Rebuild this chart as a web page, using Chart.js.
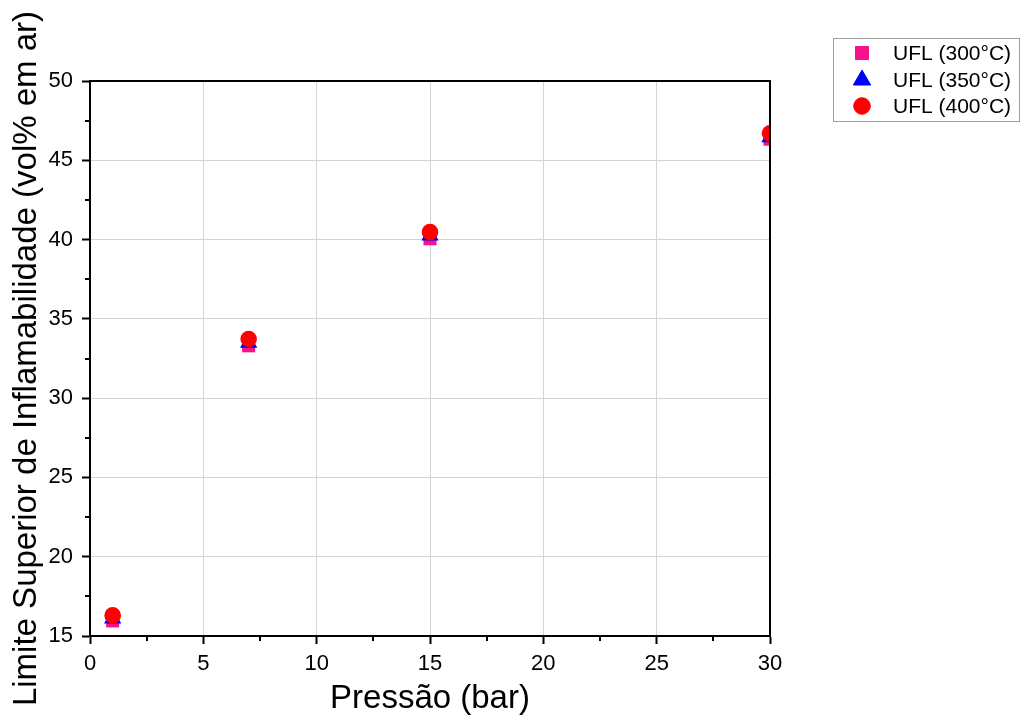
<!DOCTYPE html>
<html>
<head>
<meta charset="utf-8">
<script src="https://cdn.jsdelivr.net/npm/chart.js@4.4.0/dist/chart.umd.min.js"></script>
<style>
  body { margin: 0; background: #fff; }
  #wrap { width: 1023px; height: 720px; }
</style>
</head>
<body>
<div id="wrap"><canvas id="chart" width="1023" height="720"></canvas></div>
<script>
const pressures = [1, 7, 15, 30]
const ufl300 = [15.95, 33.3, 40.05, 46.33]
const ufl350 = [16.1, 33.5, 40.25, 46.45]
const ufl400 = [16.3, 33.73, 40.47, 46.7]
const seriesLabels = ['UFL (300°C)', 'UFL (350°C)', 'UFL (400°C)']
const xMinorTicks = [2.5, 7.5, 12.5, 17.5, 22.5, 27.5]
const yMinorTicks = [17.5, 22.5, 27.5, 32.5, 37.5, 42.5, 47.5]

const FONT = '"Liberation Sans", Arial, sans-serif'

const toPoints = ys => pressures.map((p, i) => ({ x: p, y: ys[i] }))

// minor ticks, black frame and the boxed legend on the right
const extras = {
  id: 'extras',
  afterDraw(chart) {
    const { ctx, chartArea: a, scales } = chart
    ctx.save()
    ctx.strokeStyle = '#000'
    ctx.lineWidth = 2
    ctx.strokeRect(a.left, a.top, a.right - a.left, a.bottom - a.top)
    ctx.beginPath()
    xMinorTicks.forEach(v => {
      const px = Math.round(scales.x.getPixelForValue(v))
      ctx.moveTo(px, a.bottom)
      ctx.lineTo(px, a.bottom + 5)
    })
    yMinorTicks.forEach(v => {
      const py = Math.round(scales.y.getPixelForValue(v))
      ctx.moveTo(a.left - 5, py)
      ctx.lineTo(a.left, py)
    })
    ctx.stroke()

    // legend
    ctx.strokeStyle = '#a0a0a0'
    ctx.lineWidth = 1
    ctx.strokeRect(833.5, 38.5, 186, 83)
    ctx.font = '21px ' + FONT
    ctx.textBaseline = 'middle'
    ctx.textAlign = 'left'
    const rows = [53, 80, 106]
    chart.data.datasets.forEach((ds, i) => {
      ctx.fillStyle = ds.backgroundColor
      ctx.strokeStyle = ds.backgroundColor
      Chart.helpers.drawPoint(ctx, {
        pointStyle: ds.pointStyle,
        radius: ds.pointRadius,
        borderWidth: 0.01
      }, 862, rows[i])
      ctx.fillStyle = '#000'
      ctx.fillText(ds.label, 893, rows[i] + 1)
    })
    ctx.restore()
  }
}

new Chart(document.getElementById('chart'), {
  type: 'scatter',
  data: {
    datasets: [
      {
        label: seriesLabels[0],
        data: toPoints(ufl300),
        pointStyle: 'rect',
        pointRadius: 9.2,
        backgroundColor: '#f5128a',
        borderWidth: 0,
        order: 2
      },
      {
        label: seriesLabels[1],
        data: toPoints(ufl350),
        pointStyle: 'triangle',
        pointRadius: 10,
        backgroundColor: '#0000ff',
        borderWidth: 0,
        order: 1
      },
      {
        label: seriesLabels[2],
        data: toPoints(ufl400),
        pointStyle: 'circle',
        pointRadius: 8.3,
        backgroundColor: '#ff0000',
        borderWidth: 0,
        order: 0
      }
    ]
  },
  options: {
    responsive: false,
    animation: false,
    layout: { padding: { left: 0, top: 81, right: 253, bottom: 0 } },
    plugins: { legend: { display: false }, tooltip: { enabled: false } },
    scales: {
      x: {
        type: 'linear',
        min: 0,
        max: 30,
        afterFit: s => { s.height = 84 },
        ticks: { stepSize: 5, color: '#000', padding: 7, font: { family: FONT, size: 22 } },
        grid: { color: '#d4d4d4', lineWidth: 1, tickColor: '#000', tickLength: 8, tickWidth: 2 },
        border: { color: '#000', width: 2 },
        title: {
          display: true,
          text: 'Pressão (bar)',
          color: '#000',
          font: { family: FONT, size: 33 },
          padding: { top: 0, bottom: 1 }
        }
      },
      y: {
        type: 'linear',
        min: 15,
        max: 50,
        afterFit: s => { s.width = 90 },
        ticks: { stepSize: 5, color: '#000', padding: 9, font: { family: FONT, size: 22 } },
        grid: { color: '#d4d4d4', lineWidth: 1, tickColor: '#000', tickLength: 8, tickWidth: 2 },
        border: { color: '#000', width: 2 },
        title: {
          display: true,
          text: 'Limite Superior de Inflamabilidade (vol% em ar)',
          color: '#000',
          font: { family: FONT, size: 33 },
          padding: { top: 7, bottom: 0 }
        }
      }
    }
  },
  plugins: [extras]
})
</script>
</body>
</html>
